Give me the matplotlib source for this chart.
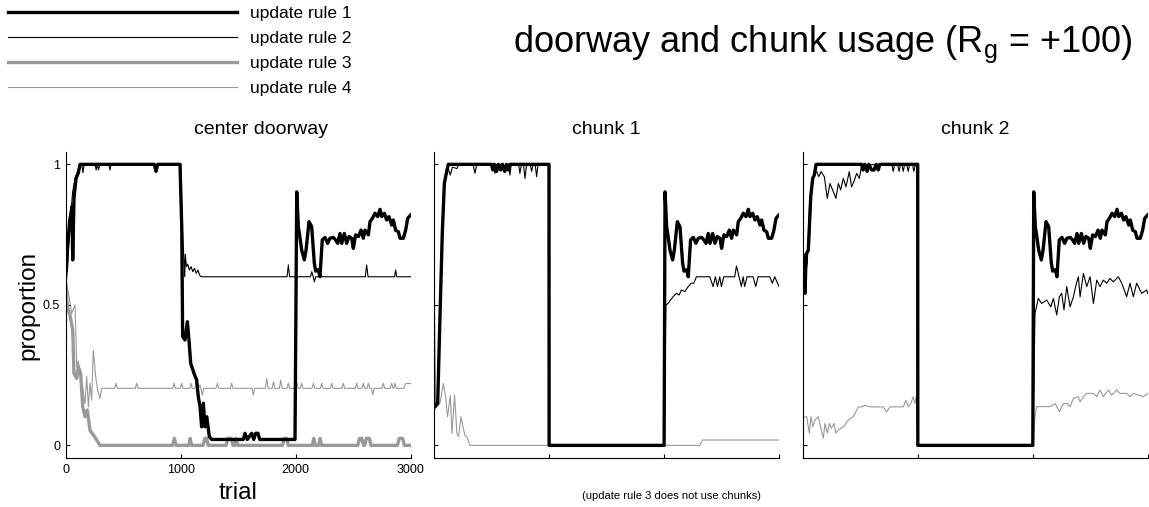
import numpy as np
from matplotlib import pyplot as plt

plt.rcParams["font.family"] = ["Liberation Sans", "DejaVu Sans"]

W, H = 1149, 507  # figure size in pixels

TRIAL_TICKS = [0, 1000, 2000, 3000]
TRIAL_LABELS = ["0", "1000", "2000", "3000"]
PROP_TICKS = [0, 0.5, 1]
PROP_LABELS = ["0", "0.5", "1"]

RULES = ["update rule 1", "update rule 2", "update rule 3", "update rule 4"]
PANELS = ["center doorway", "chunk 1", "chunk 2"]

# rule 1 after the goal switch at trial 2000 (same in every panel)
late_r1 = [(2009, 0.902), (2023, 0.778), (2037, 0.74), (2052, 0.695), (2075, 0.66),
           (2090, 0.695), (2116, 0.796), (2139, 0.778), (2162, 0.648), (2174, 0.62),
           (2197, 0.625), (2211, 0.6), (2231, 0.731), (2255, 0.74), (2278, 0.719),
           (2298, 0.737), (2327, 0.74), (2347, 0.731), (2365, 0.719), (2385, 0.754),
           (2400, 0.719), (2423, 0.754), (2443, 0.719), (2463, 0.743), (2487, 0.737),
           (2501, 0.701), (2521, 0.749), (2545, 0.743), (2568, 0.766), (2588, 0.737),
           (2603, 0.766), (2632, 0.749), (2646, 0.796), (2667, 0.808), (2690, 0.826),
           (2713, 0.814), (2733, 0.84), (2748, 0.814), (2771, 0.826), (2791, 0.802),
           (2811, 0.814), (2835, 0.784), (2849, 0.802), (2869, 0.766), (2893, 0.76),
           (2907, 0.737), (2936, 0.737), (2956, 0.766), (2974, 0.808), (3000, 0.82)]

# center doorway
door_r1 = [(0, 0.6), (15, 0.7), (35, 0.8), (55, 0.85), (61, 0.66), (72, 0.88),
           (90, 0.95), (110, 0.97), (125, 1.0), (770, 1.0), (785, 0.975), (800, 1.0),
           (994, 1.0), (1009, 0.778), (1017, 0.387), (1037, 0.375), (1058, 0.44),
           (1072, 0.375), (1087, 0.292), (1116, 0.256), (1139, 0.232), (1153, 0.173),
           (1168, 0.138), (1182, 0.066), (1197, 0.15), (1211, 0.066), (1226, 0.102),
           (1249, 0.031), (1270, 0.021), (1544, 0.021), (1559, 0.043), (1579, 0.021),
           (1617, 0.043), (1635, 0.021), (1652, 0.043), (1672, 0.043), (1687, 0.021),
           (1994, 0.021)] + late_r1
door_r2 = [(0, 0.91), (8, 0.75), (15, 0.62), (35, 0.78), (60, 0.9), (80, 0.95),
           (100, 0.97), (120, 1.0), (140, 1.0), (150, 0.97), (160, 1.0), (255, 1.0),
           (265, 0.98), (275, 1.0), (285, 0.98), (298, 1.0), (375, 1.0), (385, 0.98),
           (395, 1.0), (1000, 1.0), (1012, 0.8), (1035, 0.6), (1040, 0.68),
           (1050, 0.636), (1061, 0.645), (1075, 0.624), (1090, 0.636), (1105, 0.618),
           (1120, 0.63), (1135, 0.612), (1150, 0.624), (1165, 0.605), (1180, 0.6),
           (1925, 0.6), (1936, 0.642), (1947, 0.6), (2128, 0.6), (2140, 0.618),
           (2152, 0.6), (2162, 0.582), (2174, 0.6), (2605, 0.6), (2617, 0.642),
           (2629, 0.6), (2860, 0.6), (2869, 0.624), (2878, 0.6), (3000, 0.6)]
door_r3 = [(0, 0.55), (3, 0.564), (14, 0.493), (37, 0.464), (61, 0.41), (72, 0.256),
           (96, 0.238), (110, 0.28), (130, 0.256), (148, 0.137), (168, 0.102),
           (188, 0.126), (211, 0.054), (240, 0.037), (270, 0.019), (298, 0.0),
           (930, 0.0), (945, 0.025), (960, 0.0), (1070, 0.0), (1082, 0.025),
           (1095, 0.0), (1195, 0.0), (1210, 0.025), (1225, 0.025), (1240, 0.0),
           (1395, 0.0), (1410, 0.025), (1440, 0.025), (1455, 0.0), (1470, 0.0),
           (1482, 0.025), (1495, 0.0), (1885, 0.0), (1900, 0.025), (1920, 0.025),
           (1935, 0.0), (2145, 0.0), (2157, 0.025), (2170, 0.0), (2200, 0.0),
           (2212, 0.025), (2225, 0.0), (2540, 0.0), (2555, 0.025), (2575, 0.025),
           (2590, 0.0), (2600, 0.0), (2615, 0.025), (2640, 0.025), (2655, 0.0),
           (2885, 0.0), (2900, 0.025), (2930, 0.025), (2945, 0.0), (3000, 0.0)]
door_r4 = [(0, 0.58), (3, 0.588), (10, 0.577), (52, 0.47), (81, 0.5), (96, 0.28),
           (110, 0.3), (125, 0.26), (150, 0.2), (168, 0.149), (183, 0.244),
           (197, 0.137), (211, 0.221), (226, 0.161), (240, 0.339), (261, 0.244),
           (278, 0.197), (298, 0.167), (313, 0.203), (425, 0.203), (437, 0.221),
           (449, 0.203), (605, 0.203), (617, 0.221), (629, 0.203), (930, 0.203),
           (942, 0.221), (955, 0.203), (995, 0.203), (1009, 0.221), (1020, 0.203),
           (1080, 0.203), (1090, 0.221), (1100, 0.203), (1125, 0.203), (1139, 0.232),
           (1153, 0.203), (1168, 0.215), (1188, 0.179), (1200, 0.203), (1307, 0.203),
           (1319, 0.221), (1331, 0.203), (1431, 0.203), (1443, 0.221), (1455, 0.203),
           (1620, 0.203), (1632, 0.179), (1644, 0.203), (1736, 0.203), (1748, 0.238),
           (1760, 0.203), (1795, 0.203), (1807, 0.226), (1819, 0.203), (1858, 0.203),
           (1870, 0.232), (1882, 0.203), (1924, 0.203), (1936, 0.221), (1948, 0.203),
           (1997, 0.203), (2009, 0.226), (2021, 0.203), (2040, 0.203), (2052, 0.221),
           (2064, 0.203), (2142, 0.203), (2154, 0.221), (2166, 0.203), (2214, 0.203),
           (2226, 0.221), (2238, 0.203), (2301, 0.203), (2313, 0.221), (2325, 0.203),
           (2402, 0.203), (2414, 0.221), (2426, 0.203), (2518, 0.203), (2530, 0.221),
           (2542, 0.203), (2576, 0.203), (2588, 0.221), (2600, 0.203), (2620, 0.203),
           (2632, 0.221), (2644, 0.203), (2658, 0.203), (2670, 0.18), (2682, 0.203),
           (2750, 0.203), (2762, 0.221), (2774, 0.203), (2823, 0.203), (2835, 0.221),
           (2847, 0.203), (2852, 0.203), (2864, 0.221), (2876, 0.203), (2940, 0.203),
           (2955, 0.22), (3000, 0.22)]

# chunk 1
c1_r1 = [(0, 0.137), (9, 0.137), (32, 0.149), (52, 0.458), (72, 0.754), (90, 0.932),
         (101, 0.956), (124, 1.0), (500, 1.0), (512, 0.98), (525, 1.0), (545, 0.975),
         (560, 1.0), (580, 0.98), (595, 1.0), (615, 0.975), (630, 1.0), (645, 0.98),
         (660, 1.0), (1000, 1.0), (1001, 0.0), (2001, 0.0)] + late_r1
c1_r2 = [(0, 0.77), (8, 0.14), (30, 0.16), (50, 0.46), (70, 0.75), (88, 0.93),
         (101, 0.95), (120, 0.99), (142, 0.962), (160, 0.99), (200, 0.985), (215, 1.0),
         (340, 1.0), (356, 0.968), (372, 1.0), (515, 1.0), (530, 0.968), (545, 1.0),
         (600, 1.0), (615, 0.975), (630, 1.0), (648, 1.0), (660, 0.962), (672, 1.0),
         (735, 1.0), (747, 0.968), (760, 1.0), (778, 1.0), (791, 0.95), (805, 1.0),
         (836, 1.0), (849, 0.975), (862, 1.0), (880, 1.0), (892, 0.956), (905, 1.0),
         (1000, 1.0), (1001, 0.0), (2001, 0.0), (2016, 0.499), (2036, 0.505),
         (2056, 0.517), (2079, 0.529), (2108, 0.541), (2131, 0.535), (2152, 0.553),
         (2181, 0.547), (2210, 0.565), (2239, 0.577), (2259, 0.577), (2282, 0.6),
         (2398, 0.6), (2427, 0.565), (2447, 0.6), (2465, 0.565), (2485, 0.6),
         (2499, 0.565), (2520, 0.6), (2615, 0.6), (2630, 0.638), (2653, 0.6),
         (2673, 0.565), (2688, 0.6), (2702, 0.565), (2722, 0.6), (2774, 0.6),
         (2798, 0.565), (2818, 0.6), (2919, 0.6), (2942, 0.577), (2963, 0.6),
         (3000, 0.565)]
c1_r4 = [(0, 0.9), (9, 0.143), (37, 0.143), (52, 0.15), (81, 0.22), (101, 0.173),
         (118, 0.102), (142, 0.179), (156, 0.042), (179, 0.179), (199, 0.042),
         (214, 0.031), (235, 0.102), (249, 0.072), (268, 0.037), (284, 0.031),
         (313, 0.0), (2311, 0.0), (2334, 0.019), (3000, 0.019)]

# chunk 2
c2_r1 = [(0, 0.68), (5, 0.671), (20, 0.541), (30, 0.68), (49, 0.695), (70, 0.885),
         (87, 0.95), (101, 0.962), (116, 1.0), (513, 1.0), (525, 0.98), (540, 1.0),
         (560, 0.975), (575, 1.0), (600, 0.98), (620, 0.98), (640, 1.0), (657, 0.98),
         (670, 1.0), (1000, 1.0), (1001, 0.0), (2001, 0.0)] + late_r1
c2_r2 = [(0, 0.39), (5, 0.54), (20, 0.6), (40, 0.65), (60, 0.86), (80, 0.94),
         (100, 0.965), (122, 0.974), (140, 0.956), (160, 0.974), (188, 0.956),
         (214, 0.879), (237, 0.932), (260, 0.909), (289, 0.879), (310, 0.932),
         (330, 0.909), (353, 0.95), (376, 0.92), (405, 0.974), (425, 0.92),
         (445, 0.938), (469, 0.968), (492, 0.95), (513, 0.998), (775, 1.0),
         (787, 0.975), (800, 1.0), (825, 1.0), (838, 0.975), (850, 1.0), (862, 1.0),
         (874, 0.975), (887, 1.0), (905, 1.0), (917, 0.975), (930, 1.0), (955, 1.0),
         (966, 0.975), (980, 1.0), (1000, 1.0), (1001, 0.0), (2001, 0.0),
         (2020, 0.47), (2049, 0.523), (2078, 0.505), (2122, 0.517), (2157, 0.493),
         (2180, 0.523), (2209, 0.464), (2232, 0.529), (2252, 0.541), (2272, 0.482),
         (2296, 0.565), (2325, 0.493), (2354, 0.529), (2377, 0.571), (2397, 0.6),
         (2412, 0.529), (2441, 0.612), (2470, 0.565), (2499, 0.6), (2528, 0.505),
         (2557, 0.588), (2586, 0.565), (2614, 0.588), (2643, 0.577), (2672, 0.594),
         (2701, 0.582), (2745, 0.6), (2774, 0.577), (2817, 0.529), (2846, 0.577),
         (2875, 0.529), (2904, 0.577), (2948, 0.541), (2991, 0.553), (3000, 0.541)]
c2_r4 = [(0, 0.53), (5, 0.1), (35, 0.102), (57, 0.043), (72, 0.102), (87, 0.066),
         (107, 0.09), (136, 0.102), (155, 0.066), (179, 0.025), (194, 0.078),
         (214, 0.043), (232, 0.078), (251, 0.061), (272, 0.078), (289, 0.043),
         (310, 0.055), (353, 0.066), (396, 0.09), (440, 0.102), (483, 0.137),
         (513, 0.137), (541, 0.143), (585, 0.137), (701, 0.137), (730, 0.119),
         (759, 0.137), (875, 0.137), (898, 0.161), (919, 0.137), (940, 0.149),
         (961, 0.173), (975, 0.149), (990, 0.179), (1000, 0.0), (2001, 0.0),
         (2020, 0.102), (2035, 0.138), (2064, 0.138), (2093, 0.138), (2151, 0.138),
         (2194, 0.149), (2232, 0.12), (2267, 0.149), (2296, 0.149), (2325, 0.138),
         (2354, 0.167), (2397, 0.173), (2412, 0.155), (2441, 0.173), (2470, 0.185),
         (2528, 0.185), (2557, 0.173), (2586, 0.197), (2614, 0.173), (2658, 0.197),
         (2687, 0.179), (2730, 0.197), (2759, 0.185), (2817, 0.185), (2846, 0.173),
         (2875, 0.185), (2919, 0.179), (2962, 0.173), (3000, 0.185)]

# rule number -> series, for each panel (rule 3 does not use chunks)
SERIES = [
    {1: door_r1, 2: door_r2, 3: door_r3, 4: door_r4},
    {1: c1_r1, 2: c1_r2, 4: c1_r4},
    {1: c2_r1, 2: c2_r2, 4: c2_r4},
]

STYLE = {
    1: dict(color="black", lw=2.4, zorder=4),
    2: dict(color="black", lw=0.8, zorder=3),
    3: dict(color="0.6", lw=2.4, zorder=2),
    4: dict(color="0.6", lw=0.8, zorder=1),
}


def px_axes(fig, left, top, right, bottom):
    """ Додає осі, задані в пікселях від лівого верхнього кута """
    return fig.add_axes([left / W, 1 - bottom / H,
                         (right - left) / W, (bottom - top) / H])


fig = plt.figure(figsize=(W / 100, H / 100), dpi=100)

lefts = [65.7, 434.0, 802.7]
title_x = [0.566, 0.5, 0.5]  # заголовок першої панелі трохи зсунутий праворуч
handles = {}
for i, (left, title, series) in enumerate(zip(lefts, PANELS, SERIES)):
    ax = px_axes(fig, left, 151.7, left + 345, 458.3)
    for rule in sorted(series):
        t, v = np.array(series[rule]).T
        line, = ax.plot(t, v, solid_joinstyle="round", **STYLE[rule])
        handles.setdefault(rule, line)
    ax.set_xlim(0, 3000)
    ax.set_ylim(-0.046, 1.045)
    ax.spines["top"].set_visible(False)
    ax.spines["right"].set_visible(False)
    for s in ("left", "bottom"):
        ax.spines[s].set_linewidth(0.8)
    ax.set_xticks(TRIAL_TICKS)
    ax.set_yticks(PROP_TICKS)
    ax.tick_params(direction="in", length=3, width=0.8, labelsize=9, pad=4)
    if i == 0:
        ax.set_xticklabels(TRIAL_LABELS)
        ax.set_yticklabels(PROP_LABELS)
        ax.set_xlabel("trial", fontsize=17.5)
        ax.set_ylabel("proportion", fontsize=17.5)
        ax.xaxis.set_label_coords(0.5, -0.078)
        ax.yaxis.set_label_coords(-0.077, 0.5)
    else:
        ax.tick_params(labelbottom=False, labelleft=False)
    ax.set_title(title, fontsize=14, pad=13, x=title_x[i])

fig.legend([handles[r] for r in (1, 2, 3, 4)], RULES,
           loc="upper left", bbox_to_anchor=(8 / W, 1 - 6 / H),
           frameon=False, fontsize=12.5, handlelength=13.2, handletextpad=0.72,
           borderpad=0, borderaxespad=0, labelspacing=0.57)

fig.text(823 / W, 1 - 52 / H, r"doorway and chunk usage ($\mathregular{R_g}$ = +100)",
         ha="center", va="baseline", fontsize=26)
fig.text(672 / W, 1 - 496 / H, "(update rule 3 does not use chunks)",
         ha="center", va="center", fontsize=8)

plt.savefig("out.png", dpi=100)
